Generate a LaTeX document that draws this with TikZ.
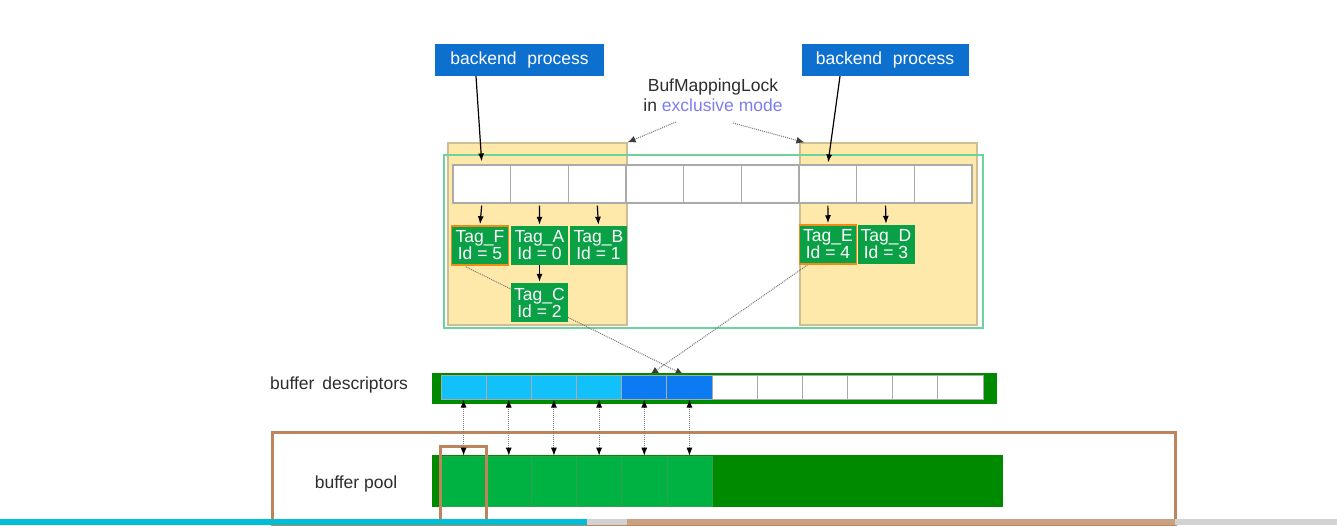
\documentclass[tikz,border=0pt]{standalone}
\usepackage{fontspec}
\setmainfont{Liberation Sans}
\usetikzlibrary{arrows.meta,calc}
\pgfdeclarelayer{bg}
\pgfdeclarelayer{back}
\pgfdeclarelayer{mid}
\pgfsetlayers{bg,back,mid,main}
\definecolor{bpblue}{RGB}{14,112,206}
\definecolor{labelgray}{RGB}{45,45,45}
\definecolor{excl}{RGB}{125,125,240}
\definecolor{yfill}{RGB}{254,233,170}
\definecolor{yedge}{RGB}{205,190,150}
\definecolor{mint}{RGB}{110,210,155}
\definecolor{cellgray}{RGB}{170,170,170}
\definecolor{taggreen}{RGB}{10,160,70}
\definecolor{tagorange}{RGB}{240,140,20}
\definecolor{dgreen}{RGB}{0,138,0}
\definecolor{lgreen}{RGB}{0,178,66}
\definecolor{pooledge}{RGB}{50,160,80}
\definecolor{lblue}{RGB}{18,192,250}
\definecolor{dblue}{RGB}{12,122,240}
\definecolor{brownish}{RGB}{190,132,92}
\definecolor{progcyan}{RGB}{0,190,215}
\definecolor{proggray}{RGB}{210,210,210}
\definecolor{progtan}{RGB}{200,160,130}
\definecolor{dotgray}{RGB}{120,120,120}
\definecolor{tipgray}{RGB}{60,60,60}
\tikzset{
  backend/.style={fill=bpblue, text=white, minimum height=32pt, inner sep=0pt},
  ybox/.style={fill=yfill, draw=yedge, line width=1.2pt, inner sep=0pt},
  gbox/.style={draw=mint, line width=1.6pt, inner sep=0pt},
  cell/.style={draw=cellgray, fill=white, line width=1.2pt, minimum width=57.67pt, minimum height=38pt, inner sep=0pt},
  tag/.style={fill=taggreen, text=white, minimum width=57pt, minimum height=39pt, inner sep=0pt, align=center, font=\fontsize{17.5}{17}\selectfont},
  hot/.style={draw=tagorange, line width=1.5pt},
  dcell/.style={draw=cellgray, line width=1pt, minimum width=45.17pt, minimum height=24pt, inner sep=0pt},
  pcell/.style={fill=lgreen, draw=pooledge, line width=0.6pt, minimum width=45.17pt, minimum height=50pt, inner sep=0pt},
  solidarrow/.style={draw=black, line width=1.2pt, -{Latex[length=8pt,width=6pt]}},
  dotarrow/.style={draw=dotgray, line width=1pt, densely dotted, -{Latex[length=8pt,width=7pt,color=tipgray]}},
  dbl/.style={draw=dotgray, line width=1pt, densely dotted, {Latex[length=8pt,width=6pt,color=black]}-{Latex[length=8pt,width=6pt,color=black]}},
  lab/.style={text=labelgray, inner sep=0pt},
  brownbox/.style={draw=brownish, line width=3pt, inner sep=0pt}
}
\begin{document}
\begin{tikzpicture}[x=1pt,y=-1pt, font=\fontsize{17.5}{20}\selectfont]
\useasboundingbox (0,0) rectangle (1337,525);
\begin{pgfonlayer}{bg}
\fill[white] (0,0) rectangle (1337,525);
\end{pgfonlayer}

% backend processes
\node[backend, minimum width=169pt] (bl) at (519.5,60) {backend\,\, process};
\node[backend, minimum width=167pt] (br) at (885,60) {backend\,\, process};

% lock label
\node[lab, align=center] (lock) at (713,95) {BufMappingLock\\in \textcolor{excl}{exclusive mode}};
\coordinate (lockl) at (676,122);
\coordinate (lockr) at (733,123);

% yellow partitions and green table frame
\begin{pgfonlayer}{back}
\node[ybox, minimum width=179pt, minimum height=182pt] (yl) at (537.5,234) {};
\node[ybox, minimum width=177pt, minimum height=182pt] (yr) at (888.5,234) {};
\node[gbox, minimum width=539pt, minimum height=173pt] (gr) at (713.5,241.5) {};
\end{pgfonlayer}

% hash table cells
\foreach \i in {1,...,9}
  \node[cell] (c\i) at ({453+57.67*(\i-0.5)},184) {};

% tags
\node[tag, hot] (tF) at (480,245.5) {Tag\_F\\Id = 5};
\node[tag] (tA) at (539.5,245.5) {Tag\_A\\Id = 0};
\node[tag] (tB) at (598.5,245.5) {Tag\_B\\Id = 1};
\node[tag] (tC) at (539.5,302.5) {Tag\_C\\Id = 2};
\node[tag, hot] (tE) at (828,244.5) {Tag\_E\\Id = 4};
\node[tag] (tD) at (886,244.5) {Tag\_D\\Id = 3};

% buffer descriptors
\node[fill=dgreen, minimum width=565pt, minimum height=31pt, inner sep=0pt] (db) at (714.5,388.5) {};
\foreach \i/\col in {1/lblue,2/lblue,3/lblue,4/lblue,5/dblue,6/dblue,7/white,8/white,9/white,10/white,11/white,12/white}
  \node[dcell, fill=\col] (d\i) at ({441+45.17*(\i-0.5)},387) {};
\node[lab] (ldesc) at (339,385) {buffer\, descriptors};

% buffer pool
\node[fill=dgreen, minimum width=571pt, minimum height=52pt, inner sep=0pt] (pb) at (717.5,481) {};
\foreach \i in {1,...,6}
  \node[pcell] (p\i) at ({441+45.17*(\i-0.5)},481) {};
\node[lab] (lpool) at (356,484) {buffer pool};

% brown frames
\node[brownbox, minimum width=903pt, minimum height=92pt] (frame) at (723.5,478) {};
\node[brownbox, minimum width=46pt, minimum height=74pt] (sel) at (463,483) {};

% connectors
\draw[solidarrow, shorten >=3pt] ([xshift=-43.5pt]bl.south) -- (c1.north);
\draw[solidarrow, shorten >=2pt] ([xshift=-45pt]br.south) -- (c7.north);
\foreach \c/\t in {c1/tF,c2/tA,c3/tB,c7/tE,c8/tD}
  \draw[solidarrow, shorten <=2pt, shorten >=1pt] (\c.south) -- (\t.north);
\draw[solidarrow, shorten >=1pt] (tA.south) -- (tC.north);

\draw[dotarrow] (lockl) -- (yl.north east);
\draw[dotarrow] (lockr) -- ([xshift=5pt]yr.north west);

\begin{pgfonlayer}{mid}
\draw[dotarrow] ([xshift=15pt,yshift=-1pt]tF.south west) -- ([xshift=-6pt]d6.north);
\draw[dotarrow] ([xshift=9pt]tE.south west) -- ([xshift=6pt]d5.north);
\end{pgfonlayer}

\foreach \i in {1,...,6}
  \draw[dbl] (d\i.south) -- (p\i.north);

% progress bar
\fill[progcyan] (0,519) rectangle (587,525);
\fill[proggray] (587,519) rectangle (627,525);
\fill[progtan] (627,519) rectangle (1175,525);
\fill[proggray] (1175,519) rectangle (1337,525);
\end{tikzpicture}
\end{document}
